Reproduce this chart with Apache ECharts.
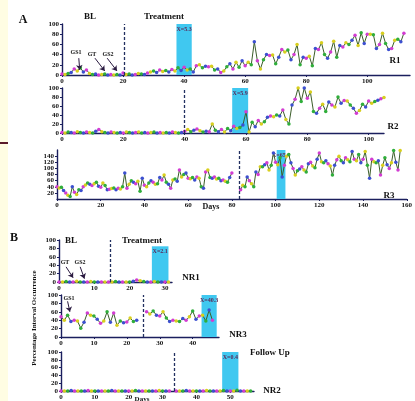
<!DOCTYPE html>
<html>
<head>
<meta charset="utf-8">
<script src="https://cdn.jsdelivr.net/npm/echarts@6/dist/echarts.min.js"></script>
<style>
  html, body { margin: 0; padding: 0; background: #fff; }
  #chart { width: 415px; height: 401px; }
</style>
</head>
<body>
<div id="chart"></div>
<script>
// ---- data ----
// R1: baseline days 0-19, treatment from day 20
const r1Base = [2, 1, 3, 5, 12, 8, 14, 6, 10, 3, 1, 2, 0, 1, 2, 0, 1, 0, 1, 0];
const r1TreatStart = 20;
const r1Treat = [4, 1, 2, 0, 1, 3, 2, 1, 4, 6, 8, 5, 10, 7, 9, 6, 11, 8, 14, 9,
  15, 10, 12, 6, 18, 20, 14, 17, 16, 17, 10, 12, 5, 8, 16,
  22, 12, 25, 15, 28, 18, 25, 20, 65, 28, 12, 30, 40, 38, 39, 22, 35, 50, 45, 49,
  30, 40, 60, 20, 35, 33, 37, 18, 52, 50, 63, 40, 33, 45, 66, 35, 58, 55, 63, 60,
  68, 78, 58, 83, 62, 80, 80, 79, 52, 60, 82, 62, 50, 52, 68, 70, 65, 82];

// R2: baseline days 0-39, treatment from day 40
const r2Base = [1, 0, 2, 1, 0, 3, 1, 0, 2, 1, 0, 4, 8, 3, 1, 0, 2, 1, 0, 1,
  0, 2, 1, 0, 1, 2, 0, 1, 0, 1, 2, 0, 1, 0, 1, 0, 2, 1, 0, 1];
const r2TreatStart = 40;
const r2Treat = [4, 8, 3, 6, 9, 5, 2, 4, 3, 20, 6, 3, 8, 2, 10, 5,
  15, 10, 12, 18, 47, 2, 24, 14, 28, 20, 25, 35, 38, 36,
  40, 38, 51, 30, 20, 62, 75, 100, 70, 100, 77, 91, 48, 44, 55, 64, 48, 69, 62, 58,
  80, 66, 72, 71, 62, 55, 44, 50, 64, 58, 71, 66, 70, 73, 76, 79];

// R3: baseline days 0-80, treatment from day 84
const r3Base = [40, 36, 38, 28, 20, 12, 8, 40, 22, 15, 30, 28, 40, 46, 52, 48, 44, 50, 55, 42,
  38, 52, 44, 30, 32, 34, 36, 30, 35, 33, 40, 85, 35, 48, 60, 55, 50, 58, 25, 68,
  45, 40, 52, 60, 55, 48, 50, 70, 62, 78, 55, 48, 35, 62, 65, 58, 95, 72, 80, 85,
  68, 66, 70, 62, 72, 68, 40, 35, 88, 95, 70, 68, 72, 65, 68, 60, 62, 58, 55, 70, 85];
const r3TreatStart = 84;
const r3Treat = [30, 45, 40, 72, 60, 50, 40, 88, 80, 105, 105, 112, 118, 95, 110, 150, 120, 112, 135, 72,
  110, 140, 145, 118, 100, 78, 92, 98, 105, 95, 88, 115, 120, 108, 102, 130, 150, 122, 118, 125,
  115, 108, 78, 110, 128, 140, 125, 118, 135, 128, 122, 155, 130, 125, 145, 118, 130, 155, 110, 68,
  130, 122, 118, 125, 78, 110, 135, 112, 100, 118, 158, 120, 95, 158];

// NR1: baseline sessions 0-13, treatment from 14
const nr1Base = [0, 0, 1, 0, 0, 2, 0, 0, 0, 1, 0, 0, 0, 0];
const nr1TreatStart = 14;
const nr1Treat = [0, 0, 1, 0, 0, 0, 0, 2, 5, 3, 1, 0, 0, 1, 0, 0, 0, 0];

// NR3: baseline sessions 0-23, treatment from 26
const nr3Base = [48, 40, 52, 37, 40, 38, 21, 35, 57, 52, 50, 42, 33, 38, 60, 35, 57, 28, 38, 34,
  36, 45, 37, 40];
const nr3TreatStart = 26;
const nr3Treat = [60, 55, 62, 52, 50, 60, 45, 37, 40, 38, 37, 44, 40, 48, 62, 42, 50, 52, 38, 64, 40];

// NR2: baseline sessions 0-32, follow up from 34
const nr2Base = [0, 0, 0, 1, 0, 0, 0, 0, 1, 0, 0, 0, 0, 0, 0, 1, 0, 0, 0, 0,
  0, 0, 1, 0, 0, 0, 0, 0, 0, 1, 0, 0, 0];
const nr2TreatStart = 34;
const nr2Treat = [0, 0, 0, 1, 0, 0, 0, 0, 0, 1, 0, 0, 0, 0, 1, 0, 0, 0, 2, 0, 0, 0, 0];

// phase change (dashed line) positions
const phaseLines = [20.5, 40, 83.5, 14.5, 25, 33.5];
// shaded probe boxes: [from, to, top]
const boxes = [[37.5, 42.5, 100], [55.5, 60.7, 100], [100.5, 104.5, 160],
  [26.3, 31, 85], [42.7, 47.3, 100], [47.6, 52.4, 100]];
const boxLabels = ['X=5.3', 'X=5.9', 'X=65.4', 'X=2.1', 'X=40.3', 'X=0.4'];
const xMaxes = [114, 105, 160, 32, 48, 57];
const xSteps = [20, 20, 20, 10, 10, 10];
const yMaxes = [100, 100, 160, 100, 100, 100];

const chart = echarts.init(document.getElementById('chart'));

const SERIF = '"Liberation Serif", "DejaVu Serif", serif';
const markerColors = ['#d23cd2', '#d8cf1e', '#2fae3a', '#3c4fd0'];
const axisColor = '#1b1f5e';

const grids = [
  { left: 62, top: 24, width: 348, height: 51 },
  { left: 62, top: 88, width: 322, height: 45 },
  { left: 57, top: 150, width: 353, height: 49 },
  { left: 59, top: 240, width: 113, height: 42 },
  { left: 61, top: 295, width: 158, height: 42 },
  { left: 61, top: 352, width: 193, height: 41 }
];

const toPairs = (arr, start) => arr.map((v, i) => [start + i, v]);

const axisCommon = {
  axisLine: { show: true, onZero: false, lineStyle: { color: axisColor, width: 1.4 } },
  axisTick: { show: true, length: 2, lineStyle: { color: axisColor } },
  splitLine: { show: false },
  axisLabel: { fontSize: 7, fontFamily: SERIF, fontWeight: 'bold', color: '#111', margin: 3 }
};

const xAxes = grids.map((g, i) => ({
  ...axisCommon,
  type: 'value', gridIndex: i, min: 0, max: xMaxes[i], interval: xSteps[i],
  axisLabel: { ...axisCommon.axisLabel, showMaxLabel: i === 2 }
}));
const yAxes = grids.map((g, i) => ({
  ...axisCommon,
  type: 'value', gridIndex: i, min: 0, max: yMaxes[i], interval: 20
}));

function lineSeries(idx, data, extra) {
  return Object.assign({
    type: 'line',
    xAxisIndex: idx,
    yAxisIndex: idx,
    data: data,
    symbol: 'circle',
    symbolSize: 3.5,
    showAllSymbol: true,
    lineStyle: { color: '#3b5d2a', width: 1 },
    itemStyle: { color: (p) => markerColors[p.dataIndex % 4] },
    animation: false,
    z: 3
  }, extra || {});
}

function phaseMark(i) {
  return {
    silent: true,
    symbol: 'none',
    label: { show: false },
    lineStyle: { type: [3, 2], color: '#223060', width: 1.3 },
    data: [{ xAxis: phaseLines[i] }]
  };
}

function boxMark(i) {
  return {
    silent: true,
    itemStyle: { color: '#40c8f0' },
    label: {
      show: true, position: 'insideTop', distance: 2, formatter: boxLabels[i],
      fontSize: 6, fontFamily: SERIF, fontWeight: 'bold', color: '#5a2a5a'
    },
    data: [[{ xAxis: boxes[i][0], yAxis: 0 }, { xAxis: boxes[i][1], yAxis: boxes[i][2] }]]
  };
}

function arrowMark(arrows) {
  return {
    silent: true,
    symbol: ['none', 'arrow'],
    symbolSize: 5,
    label: { show: false },
    lineStyle: { type: 'solid', color: '#2a1a40', width: 1 },
    data: arrows.map(a => [{ coord: [a[0], a[1]] }, { coord: [a[2], a[3]] }])
  };
}

const baseSets = [r1Base, r2Base, r3Base, nr1Base, nr3Base, nr2Base];
const treatSets = [[r1Treat, r1TreatStart], [r2Treat, r2TreatStart], [r3Treat, r3TreatStart],
  [nr1Treat, nr1TreatStart], [nr3Treat, nr3TreatStart], [nr2Treat, nr2TreatStart]];
const arrowSets = [
  [[5.5, 33, 5.8, 10], [10.8, 33, 14, 8], [14.8, 33, 18, 8]],
  null, null,
  [[2, 36, 4, 10], [6, 36, 7.2, 8]],
  [[2, 85, 2.7, 60]],
  null
];

const series = [];
grids.forEach((g, i) => {
  const base = lineSeries(i, toPairs(baseSets[i], 0));
  if (arrowSets[i]) base.markLine = arrowMark(arrowSets[i]);
  series.push(base);
  series.push(lineSeries(i, toPairs(treatSets[i][0], treatSets[i][1]), {
    markLine: phaseMark(i),
    markArea: boxMark(i)
  }));
});

function txt(x, y, s, size, extra) {
  return Object.assign({
    type: 'text', x: x, y: y, silent: true,
    style: {
      text: s, font: 'bold ' + size + 'px ' + SERIF, fill: '#111',
      align: 'center', verticalAlign: 'middle'
    }
  }, extra || {});
}

const graphic = [
  { type: 'rect', shape: { x: 0, y: 0, width: 8, height: 401 }, style: { fill: '#fffde3' }, silent: true },
  { type: 'rect', shape: { x: 0, y: 142, width: 8, height: 2 }, style: { fill: '#5a1a2a' }, silent: true },
  txt(23, 20, 'A', 12),
  txt(90, 17, 'BL', 9),
  txt(164, 17, 'Treatment', 9),
  txt(395, 61, 'R1', 9),
  txt(393, 127, 'R2', 9),
  txt(389, 196, 'R3', 9),
  txt(211, 207, 'Days', 8),
  txt(14, 238, 'B', 12),
  txt(71, 241, 'BL', 9),
  txt(142, 241, 'Treatment', 9),
  txt(65, 262, 'GT', 6),
  txt(80, 262, 'GS2', 6),
  txt(69, 298, 'GS1', 6),
  txt(76, 52, 'GS1', 6),
  txt(92, 54, 'GT', 6),
  txt(108, 54, 'GS2', 6),
  txt(191, 278, 'NR1', 9),
  txt(238, 335, 'NR3', 9),
  txt(270, 353, 'Follow Up', 9),
  txt(272, 391, 'NR2', 9),
  txt(142, 399, 'Days', 7),
  txt(34, 318, 'Percentage Interval Occurrence', 7, { rotation: Math.PI / 2 })
];

chart.setOption({
  backgroundColor: '#ffffff',
  animation: false,
  grid: grids,
  xAxis: xAxes,
  yAxis: yAxes,
  series: series,
  graphic: graphic
});
</script>
</body>
</html>
